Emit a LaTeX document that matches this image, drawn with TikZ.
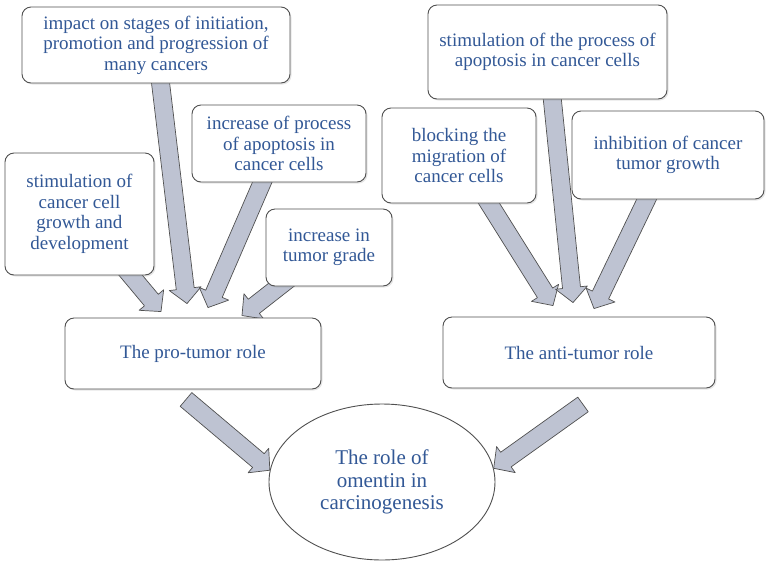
\documentclass[tikz,border=0pt]{standalone}
\usepackage{fontspec}
\setmainfont{Liberation Serif}
\usetikzlibrary{calc}
\usetikzlibrary{backgrounds}
\usetikzlibrary{shadows}
\usetikzlibrary{shapes.geometric}
\definecolor{textblue}{RGB}{50,88,150}
\definecolor{arrowfill}{RGB}{190,195,210}
\definecolor{edgegray}{RGB}{80,80,80}
\newcommand{\fatarrow}[2]{%
	\path[fatarrow] let \p1=($(#2)-(#1)$), \n1={atan2(\y1,\x1)} in
		($(#1)+(\n1+90:9pt)$) -- ($(#2)+(\n1+180:15pt)+(\n1+90:9pt)$)
		-- ($(#2)+(\n1+180:15pt)+(\n1+90:16pt)$) -- (#2)
		-- ($(#2)+(\n1+180:15pt)+(\n1-90:16pt)$) -- ($(#2)+(\n1+180:15pt)+(\n1-90:9pt)$)
		-- ($(#1)+(\n1-90:9pt)$) -- cycle;}

\begin{document}
\begin{tikzpicture}[x=1pt, y=-1pt,
	box/.style={draw=edgegray, line width=0.9pt, rounded corners=9pt, fill=white, text=textblue, align=center, inner sep=0pt, font=\fontsize{19}{20.5}\selectfont, drop shadow={opacity=0.2, shadow xshift=1.5pt, shadow yshift=-1.5pt}},
	rolebox/.style={ellipse, draw=edgegray, line width=0.9pt, fill=white, text=textblue, align=center, inner sep=0pt, font=\fontsize{21}{22.5}\selectfont},
	fatarrow/.style={draw=edgegray, line width=0.7pt, line join=round, fill=arrowfill}]
		\useasboundingbox (0,0) rectangle (769,566);
		\node[box, minimum width=268pt, minimum height=76pt] at (156,45) (impact) {impact on stages of initiation,\\promotion and progression of\\many cancers};
		\node[box, minimum width=174pt, minimum height=77pt] at (279,143.5) (apopt) {increase of process\\of apoptosis in\\cancer cells};
		\node[box, minimum width=149pt, minimum height=122pt] at (79.5,214) (growth) {stimulation of\\cancer cell\\growth and\\development};
		\node[box, minimum width=126pt, minimum height=77pt] at (329,247.5) (grade) {increase in\\tumor grade};
		\node[box, minimum width=256pt, minimum height=71pt] at (193,353.5) (pro) {The pro-tumor role};
		\node[box, minimum width=239pt, minimum height=94pt] at (547.5,52) (stimapopt) {stimulation of the process of\\apoptosis in cancer cells};
		\node[box, minimum width=154pt, minimum height=95pt] at (459,155.5) (blocking) {blocking the\\migration of\\cancer cells};
		\node[box, minimum width=192pt, minimum height=88pt] at (668,155) (inhibit) {inhibition of cancer\\tumor growth};
		\node[box, minimum width=272pt, minimum height=71pt] at (579,352.5) (anti) {The anti-tumor role};
		\node[rolebox, minimum width=226pt, minimum height=156pt] at (382,482) (role) {The role of\\omentin in\\carcinogenesis};
		\coordinate (pgrowth) at ($(pro.north)+(-32,-6)$);
		\coordinate (pimpact) at ($(pro.north)+(-6,-14)$);
		\coordinate (papopt) at ($(pro.north)+(15,-10)$);
		\coordinate (pgrade) at ($(pro.north)+(49,-2)$);
		\coordinate (ablocking) at ($(anti.north)+(-26,-11)$);
		\coordinate (astimapopt) at ($(anti.north)+(-6,-14)$);
		\coordinate (ainhibit) at ($(anti.north)+(15,-8)$);
		\coordinate (protail) at ($(pro.south)+(-7,10)$);
		\coordinate (antitail) at ($(anti.south)+(4,16)$);
		\begin{scope}[on background layer]
			\fatarrow{growth}{pgrowth}
			\fatarrow{impact}{pimpact}
			\fatarrow{apopt}{papopt}
			\fatarrow{grade}{pgrade}
			\fatarrow{blocking}{ablocking}
			\fatarrow{inhibit}{ainhibit}
			\fatarrow{stimapopt}{astimapopt}
		\end{scope}
		\fatarrow{protail}{role.174}
		\fatarrow{antitail}{role.7}
	\end{tikzpicture}
\end{document}
